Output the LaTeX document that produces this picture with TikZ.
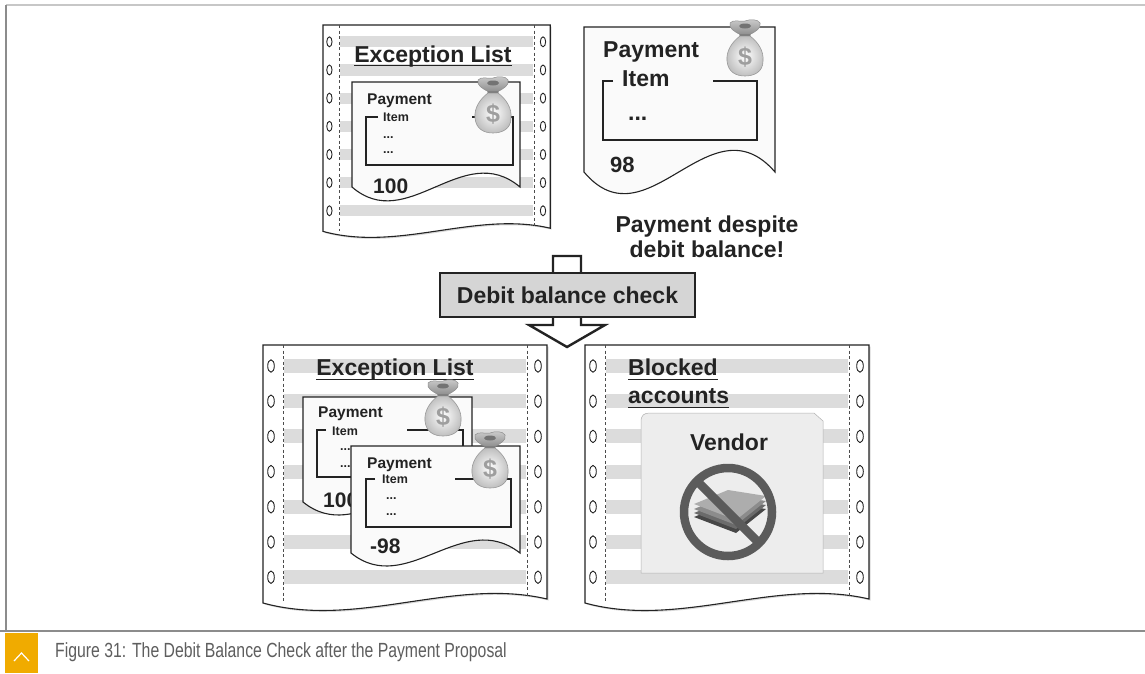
\documentclass[tikz,border=0pt]{standalone}
\usepackage{fontspec}
\setmainfont{Liberation Sans}
\newfontfamily\capfont[FakeStretch=0.77]{Liberation Sans}
\usetikzlibrary{shadows}

\definecolor{ink}{HTML}{232323}
\definecolor{stripegray}{HTML}{DCDCDC}
\definecolor{boxgray}{HTML}{D5D5D5}
\definecolor{signgray}{HTML}{5B5B5B}
\definecolor{captiongray}{HTML}{5E5E5E}
\definecolor{sapgold}{HTML}{F0AB00}
\definecolor{framegray}{HTML}{8C8C8C}

\tikzset{
  sheet/.style={
    draw=ink, line width=1.1pt, fill=white,
    drop shadow={shadow xshift=1.5pt, shadow yshift=-1.5pt, opacity=.3}
  },
  slip/.style={draw=ink, line width=1.1pt, fill=black!2},
  stripe/.style={fill=stripegray},
  perf/.style={draw=black!70, line width=.6pt, dash pattern=on 3pt off 2.5pt},
  hole/.style={draw=ink, line width=.9pt},
  itemframe/.style={draw=ink, line width=1.1pt},
  uline/.style={draw=ink, line width=1.9pt},
  bigtext/.style={font=\fontsize{23}{26}\selectfont\bfseries, text=ink, inner sep=0pt},
  paytext/.style={font=\fontsize{15.5}{18}\selectfont\bfseries, text=ink, inner sep=0pt},
  itemtext/.style={font=\fontsize{12.5}{15}\selectfont\bfseries, text=ink, inner sep=0pt},
  sumtext/.style={font=\fontsize{21}{24}\selectfont\bfseries, text=ink, inner sep=0pt},
  checkbox/.style={
    draw=ink, line width=2.8pt, fill=boxgray,
    minimum width=255pt, minimum height=44pt, inner sep=0pt,
    font=\fontsize{23}{26}\selectfont\bfseries, text=ink
  },
  flow/.style={draw=ink, line width=2.4pt, fill=white, line join=miter},
  card/.style={fill=black!7, draw=black!30, line width=.5pt},
  sign/.style={draw=signgray, line width=8.5pt},
  bagtop/.style={draw=black!45, line width=.5pt, top color=black!20, bottom color=black!45},
  bagknot/.style={fill=black!55},
  bagbody/.style={draw=black!40, line width=.6pt, inner color=white, outer color=black!25},
  bagtie/.style={draw=black!50, line width=1.6pt, line cap=round},
  dollar/.style={font=\fontsize{25}{25}\selectfont\bfseries, text=black!38, inner sep=0pt},
  % continuous listing paper, 284 x 258
  pics/listing/.style={code={
    \draw[sheet] (0,0) -- (284,0) -- (284,254)
      .. controls (190,232) and (95,284) .. (0,258) -- cycle;
    \foreach \k in {0,...,6}
      \fill[stripe] (21,{14+35.2*\k}) rectangle (263,{28+35.2*\k});
    \draw[perf] (20,0) -- (20,258);
    \draw[perf] (264,0) -- (264,251);
    \foreach \k in {0,...,6} {
      \draw[hole] (8,{21+35.2*\k}) ellipse [x radius=3.3, y radius=6.2];
      \draw[hole] (275,{21+35.2*\k}) ellipse [x radius=3.3, y radius=6.2];
    }
  }},
  % payment slip: width / height / wave depth
  pics/payslip/.style args={#1/#2/#3}{code={
    \draw[slip] (0,0) -- (#1,0) -- (#1,#2)
      .. controls ({0.66*#1},{#2-#3}) and ({0.33*#1},{#2+#3}) .. (0,#2) -- cycle;
  }},
  pics/moneybag/.style={code={
    \draw[bagtop] (-4,-13) .. controls (-10,-16) and (-17,-20) .. (-15,-25)
      .. controls (-12,-29) and (-5,-26) .. (0,-27)
      .. controls (5,-29) and (13,-29) .. (15,-25)
      .. controls (17,-20) and (10,-16) .. (4,-13) -- cycle;
    \fill[bagknot] (0,-22) ellipse [x radius=6, y radius=2.5];
    \draw[bagbody] (-5,-12) .. controls (-13,-6) and (-19,3) .. (-18,13)
      .. controls (-17,24) and (-9,28) .. (0,28)
      .. controls (9,28) and (18,24) .. (18,13)
      .. controls (19,3) and (13,-6) .. (5,-12) -- cycle;
    \draw[bagtie] (-5,-13) -- (5,-13);
    \node[dollar] at (0,9) {\$};
  }},
}

\begin{document}
\begin{tikzpicture}[x=1pt, y=-1pt]

  \useasboundingbox (0,0) rectangle (1145,673);
  \fill[white] (0,0) rectangle (1145,673);

  % ── frame and caption bar ────────────────────────────────────────────────
  \draw[black!22, line width=1.5pt] (6,5) -- (1145,5);
  \draw[framegray, line width=2pt] (6,5) -- (6,631);
  \draw[framegray, line width=1.5pt] (0,631) -- (1145,631);
  \fill[sapgold] (5,633) rectangle (38,673);
  \draw[white, line width=1.2pt] (14,661) -- (21.5,653) -- (29,661);
  \node[anchor=base west, inner sep=0pt, text=captiongray,
        font=\capfont\fontsize{20.5}{24}\selectfont] (caption) at (55,657)
    {Figure 31: The Debit Balance Check after the Payment Proposal};

  % ── exception list before the check ──────────────────────────────────────
  \pic[scale=0.8] at (323,25) {listing};
  \node[bigtext, anchor=base] (exc-top) at (433,62) {Exception List};
  \draw[uline] ([yshift=-3.5pt]exc-top.base west) -- ([yshift=-3.5pt]exc-top.base east);

  \pic at (352,82) {payslip={168/105/48}};
  \node[paytext, anchor=base west] (pay-top) at (367,104) {Payment};
  \draw[itemframe] (378,117) -- (366,117) -- (366,165) -- (513,165) -- (513,117) -- (472,117);
  \node[itemtext, anchor=base west] (item-top) at (383,121) {Item};
  \node[itemtext, anchor=base west] (dots-top1) at (383,138) {...};
  \node[itemtext, anchor=base west] (dots-top2) at (383,153) {...};
  \node[sumtext, anchor=base west] (sum-top) at (373,193) {100};
  \pic at (493,105) {moneybag};

  % single payment item
  \pic at (584,27) {payslip={191/145/75}};
  \node[bigtext, anchor=base west] (pay-single) at (603,57) {Payment};
  \draw[itemframe] (613,81) -- (603,81) -- (603,140) -- (757,140) -- (757,81) -- (713,81);
  \node[bigtext, anchor=base west] (item-single) at (622,86) {Item};
  \node[bigtext, anchor=base west] (dots-single) at (628,120) {...};
  \node[sumtext, font=\fontsize{22}{24}\selectfont\bfseries, anchor=base west] (sum-single) at (610,172) {98};
  \pic at (745,48) {moneybag};

  \node[bigtext, anchor=base] (warn1) at (707,232) {Payment despite};
  \node[bigtext, anchor=base] (warn2) at (707,257) {debit balance!};

  % ── check step ───────────────────────────────────────────────────────────
  \draw[flow] (553,256) -- (581,256) -- (581,325) -- (605,325) -- (567,347)
    -- (529,325) -- (553,325) -- cycle;
  \node[checkbox] (check) at (567.5,295) {Debit balance check};

  % ── exception list after the check ───────────────────────────────────────
  \pic at (263,345) {listing};
  \node[bigtext, anchor=base] (exc-bot) at (395,375) {Exception List};
  \draw[uline] ([yshift=-4.5pt]exc-bot.base west) -- ([yshift=-4.5pt]exc-bot.base east);

  \pic at (303,397) {payslip={169/105/45}};
  \node[paytext, anchor=base west] (pay-a) at (318,417) {Payment};
  \draw[itemframe] (326,430) -- (317,430) -- (317,477) -- (463,477) -- (463,430) -- (407,430);
  \node[itemtext, anchor=base west] (item-a) at (332,435) {Item};
  \node[itemtext, anchor=base west] (dots-a1) at (340,450) {...};
  \node[itemtext, anchor=base west] (dots-a2) at (340,467) {...};
  \node[sumtext, anchor=base west] (sum-a) at (323,507) {100};
  \pic at (443,408) {moneybag};

  \pic at (351,446) {payslip={169/107/45}};
  \node[paytext, anchor=base west] (pay-b) at (367,468) {Payment};
  \draw[itemframe] (375,479) -- (366,479) -- (366,527) -- (511,527) -- (511,479) -- (455,479);
  \node[itemtext, anchor=base west] (item-b) at (382,483) {Item};
  \node[itemtext, anchor=base west] (dots-b1) at (386,499) {...};
  \node[itemtext, anchor=base west] (dots-b2) at (386,515) {...};
  \node[sumtext, anchor=base west] (sum-b) at (370,553) {-98};
  \pic at (490,460) {moneybag};

  % ── blocked accounts ─────────────────────────────────────────────────────
  \pic at (585,345) {listing};
  \node[bigtext, anchor=base west] (blk1) at (628,375) {Blocked};
  \draw[uline] ([yshift=-4.5pt]blk1.base west) -- ([yshift=-4.5pt]blk1.base east);
  \node[bigtext, anchor=base west] (blk2) at (628,403) {accounts};
  \draw[uline] ([yshift=-4.5pt]blk2.base west) -- ([yshift=-4.5pt]blk2.base east);

  \draw[card] (641,422) .. controls (641,415) and (644,413) .. (650,413)
    -- (814,413) -- (823,421) -- (823,573) -- (641,573) -- cycle;
  \node[bigtext, anchor=base] (vendor) at (729,450) {Vendor};

  % no-payment sign
  \begin{scope}[shift={(728,512)}]
    \foreach \s/\c in {13/black!72, 9/black!58, 5/black!45, 0/black!32}
      \fill[\c] (-34,{-8+\s}) -- (0,{-22+\s}) -- (38,{-16+\s}) -- (8,{8+\s}) -- cycle;
    \draw[sign] (0,0) circle [radius=44];
    \draw[sign] (-31,-31) -- (31,31);
  \end{scope}

\end{tikzpicture}
\end{document}
